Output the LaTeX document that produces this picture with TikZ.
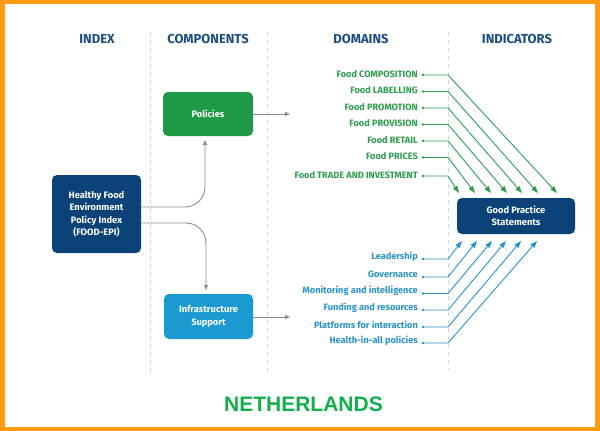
\documentclass[tikz,border=0pt]{standalone}
\usepackage{fontspec}
\setmainfont{Fira Sans}
\newfontfamily\arialb{Liberation Sans}
\usetikzlibrary{arrows.meta}
\definecolor{frameor}{HTML}{FF9B12}
\definecolor{dkblue}{HTML}{0B4379}
\definecolor{hdblue}{HTML}{1D4E80}
\definecolor{boxgreen}{HTML}{1E9A47}
\definecolor{txgreen}{HTML}{2E9E4F}
\definecolor{boxblue}{HTML}{1A9AD0}
\definecolor{txblue}{HTML}{2A93C8}
\definecolor{arrgrey}{HTML}{8C8C8C}
\definecolor{dashgrey}{HTML}{D5D5D5}
\definecolor{nlgreen}{HTML}{12B04C}
\tikzset{
  hdr/.style={text=hdblue, font=\fontsize{13}{15}\selectfont\bfseries, anchor=center},
  boxx/.style={rounded corners=5pt, text=white, align=center, inner sep=0pt,
    font=\fontsize{9.3}{12.5}\selectfont\bfseries},
  glab/.style={text=txgreen, anchor=east, inner sep=0pt, font=\fontsize{9.2}{10}\selectfont\bfseries},
  blab/.style={text=txblue, anchor=east, inner sep=0pt, font=\fontsize{9.2}{10}\selectfont\bfseries},
  dsep/.style={draw=dashgrey, line width=0.8pt, dash pattern=on 4pt off 4pt},
  garr/.style={draw=arrgrey, line width=0.9pt, -{Triangle[length=5pt,width=4pt]}},
  gline/.style={draw=txgreen, line width=0.9pt, -{Triangle[length=7pt,width=5pt]}},
  bline/.style={draw=txblue, line width=0.9pt, -{Triangle[length=7pt,width=5pt]}},
  gdot/.style={circle, fill=txgreen, inner sep=0pt, minimum size=2.6pt},
  bdot/.style={circle, fill=txblue, inner sep=0pt, minimum size=2.6pt},
}
\begin{document}
\begin{tikzpicture}[x=1pt,y=-1pt]
\useasboundingbox (0,0) rectangle (600,431);
\fill[frameor] (0,0) rectangle (600,431);
\fill[white] (5,4) rectangle (595,427);
% dashed separators
\draw[dsep] (150,32) -- (150,373);
\draw[dsep] (267,32) -- (267,373);
\draw[dsep] (448,32) -- (448,370);
% headers
\node[hdr] (hindex) at (97,39) {INDEX};
\node[hdr] (hcomp) at (208,39) {COMPONENTS};
\node[hdr] (hdom) at (361,39) {DOMAINS};
\node[hdr] (hind) at (517,39) {INDICATORS};
% boxes
\node[boxx, fill=boxgreen, minimum width=90pt, minimum height=44pt] (pol) at (208,114) {Policies};
\node[boxx, fill=dkblue, minimum width=89pt, minimum height=78pt] (epi) at (96.5,214) {Healthy Food\\Environment\\Policy Index\\(FOOD-EPI)};
\node[boxx, fill=boxblue, minimum width=89pt, minimum height=45pt] (inf) at (208.5,316.5) {Infrastructure\\Support};
\node[boxx, fill=dkblue, minimum width=118pt, minimum height=36pt, font=\fontsize{9.3}{12}\selectfont\bfseries] (gp) at (516,216) {Good Practice\\Statements};
% index to components
\coordinate (polin) at (205,140);
\coordinate (infin) at (206,290);
\draw[garr, rounded corners=20pt] ([yshift=7pt]epi.east) -- (polin |- 0,207) -- (polin);
\draw[garr, rounded corners=20pt] ([yshift=-9pt]epi.east) -- (infin |- 0,223) -- (infin);
\coordinate (polout) at (290,114);
\coordinate (infout) at (290,317);
\draw[garr] (pol.east |- polout) -- (polout);
\draw[garr] (inf.east |- infout) -- (infout);
% domains
\foreach \name/\txt/\y/\tx in {
  d1/Food COMPOSITION/75/557,
  d2/Food LABELLING/91.5/538,
  d3/Food PROMOTION/108/522,
  d4/Food PROVISION/124.5/507,
  d5/Food RETAIL/141/491,
  d6/Food PRICES/157.5/475,
  d7/Food TRADE AND INVESTMENT/176/459}{
  \node[glab] (\name) at (418,\y-1) {\txt};
  \node[gdot] (\name dot) at (423,\y) {};
  \coordinate (\name bend) at (448,\y);
  \coordinate (\name tip) at (\tx,193);
  \draw[gline] (\name dot.center) -- (\name bend) -- (\name tip);
}
% infrastructure domains
\foreach \name/\txt/\y/\tx in {
  i1/Leadership/259/462,
  i2/Governance/277/477,
  i3/Monitoring and intelligence/293.5/492,
  i4/Funding and resources/310/506,
  i5/Platforms for interaction/327/521,
  i6/Health-in-all policies/343/537}{
  \node[blab] (\name) at (418,\y-2.5) {\txt};
  \node[bdot] (\name dot) at (423,\y) {};
  \coordinate (\name bend) at (448,\y);
  \coordinate (\name tip) at (\tx,241);
  \draw[bline] (\name dot.center) -- (\name bend) -- (\name tip);
}
% country
\node[text=nlgreen, font=\arialb\fontsize{21}{24}\selectfont\bfseries] (nl) at (303.5,404) {NETHERLANDS};
\end{tikzpicture}
\end{document}
